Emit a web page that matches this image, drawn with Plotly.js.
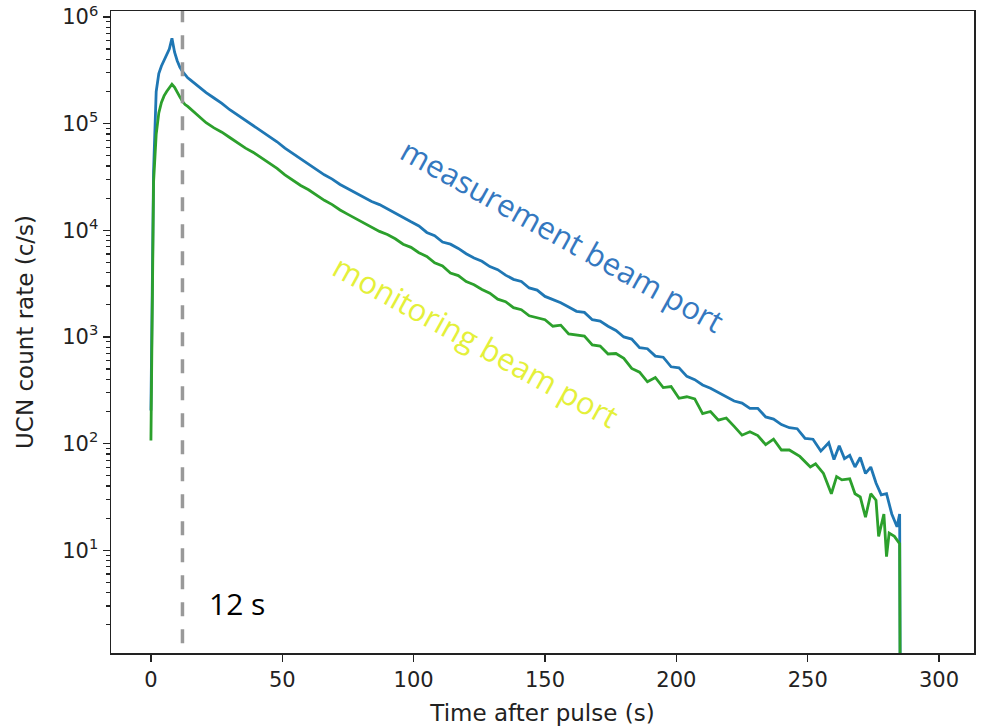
<!DOCTYPE html>
<html><head><meta charset="utf-8">
<script src="https://cdn.plot.ly/plotly-3.0.1.min.js"></script>
<style>html,body{margin:0;padding:0;background:#fff;} #chart{width:982px;height:726px;}</style>
</head><body><div id="chart"></div>
<script>
// ---- data (time in s, rate in counts/s) ----
const timeMeasurement = [0,1,2,3,4,5,6,7,8,9,10,11,12,13,14,15,
  18,21,24,27,30,33,36,39,42,45,48,51,54,57,60,63,66,69,72,75,78,81,84,87,90,93,96,99,
  102,105,108,111,114,117,120,123,126,129,132,135,138,141,144,147,150,153,156,159,162,165,168,171,174,177,
  180,183,186,189,192,195,198,201,204,207,210,213,216,219,222,225,228,231,234,237,240,243,246,249,252,
  255,258,260,262,264,266,268,270,272,274,276,278,280,282,284,285,286];
const rateMeasurement = [204,35500,200000,295000,347000,389000,437000,501000,631000,468000,389000,339000,309000,288000,269000,257000,
  224000,195000,174000,155000,135000,120000,107000,95500,85100,75900,67600,58900,52500,46800,41700,37200,33100,30200,26900,24500,22400,20400,18600,17400,15800,14500,13200,12000,
  11000,9550,8910,7760,7410,6760,6030,5500,5130,4570,4270,3800,3470,3310,2880,2750,2400,2240,2090,1910,1740,1700,1450,1410,1260,1150,
  1000,955,794,776,661,646,525,513,427,398,355,331,302,275,251,240,214,214,178,170,151,141,138,112,110,
  85.1,102,70.8,95.5,72.4,77.6,60.3,74.1,52.5,60.3,42.7,33.1,33.9,21.9,16.6,21.9,0.000001];

const timeMonitoring = [0,1,2,3,4,5,6,7,8,9,10,11,12,13,14,15,
  18,21,24,27,30,33,36,39,42,45,48,51,54,57,60,63,66,69,72,75,78,81,84,87,90,93,96,99,
  102,105,108,111,114,117,120,123,126,129,132,135,138,141,144,147,150,153,156,159,162,165,168,171,174,177,
  180,183,186,189,192,195,198,201,204,207,210,213,216,219,222,225,228,231,234,237,240,243,
  247,251,253,256,259,261,263,266,268,270,272,274,276,277,279,280,281,283,285,286];
const rateMonitoring = [107,28200,79400,126000,158000,182000,200000,219000,234000,219000,195000,178000,162000,151000,145000,138000,
  117000,102000,91200,83200,74100,66100,58900,53700,47900,42700,38000,33100,29500,26300,24000,21400,19100,17400,15500,14100,12900,11700,10700,9770,9120,8320,7410,6920,
  6170,5690,4950,4620,3980,3760,3310,3090,2790,2570,2260,2140,1880,1800,1580,1510,1450,1260,1290,1070,1050,1020,841,822,692,700,
  631,507,468,380,417,335,343,266,275,263,191,200,166,174,145,120,129,119,97.7,110,87.1,87.1,
  75.9,60.3,64.6,52.5,33.9,49.0,45.7,46.8,33.9,31.6,20.4,33.9,29.5,13.5,21.9,8.71,14.5,13.5,11.5,0.000001];

const xTickValues = [0,50,100,150,200,250,300];
const xTickLabels = ['0','50','100','150','200','250','300'];
const yTickValues = [10,100,1000,10000,100000,1000000];
const yTickLabels = ['10<sup>1</sup>','10<sup>2</sup>','10<sup>3</sup>','10<sup>4</sup>','10<sup>5</sup>','10<sup>6</sup>'];
const yMinorTickValues = [2,3,4,5,6,7,8,9,20,30,40,50,60,70,80,90,200,300,400,500,600,700,800,900,
  2000,3000,4000,5000,6000,7000,8000,9000,20000,30000,40000,50000,60000,70000,80000,90000,
  200000,300000,400000,500000,600000,700000,800000,900000];
const pulseMarkerTime = 12;
const seriesNames = ['measurement beam port','monitoring beam port'];

const traces = [
  {x: timeMeasurement, y: rateMeasurement, type:'scatter', mode:'lines', name: seriesNames[0],
   line:{color:'#1f77b4', width:2.8}},
  {x: timeMonitoring, y: rateMonitoring, type:'scatter', mode:'lines', name: seriesNames[1],
   line:{color:'#2ca02c', width:2.8}}
];

const axisColor = '#222';
const layout = {
  width: 982, height: 726,
  margin: {l:111, r:8, t:11, b:73, pad:0},
  paper_bgcolor:'#fff', plot_bgcolor:'#fff',
  showlegend:false,
  font:{family:'DejaVu Sans, sans-serif', color:axisColor},
  xaxis:{
    range:[-15.2,313.3], tickmode:'array', tickvals:xTickValues, ticktext:xTickLabels,
    ticks:'outside', ticklen:7, tickwidth:1.5, tickcolor:axisColor,
    showline:true, mirror:true, linecolor:axisColor, linewidth:1.5,
    showgrid:false, zeroline:false, automargin:false,
    tickfont:{size:21, color:axisColor},
    title:{text:'Time after pulse (s)', font:{size:23, color:axisColor}, standoff:14}
  },
  yaxis:{
    type:'log', range:[0.037,6.056], tickmode:'array', tickvals:yTickValues, ticktext:yTickLabels,
    ticks:'outside', ticklen:7, tickwidth:1.5, tickcolor:axisColor,
    minor:{tickmode:'array', tickvals:yMinorTickValues, ticks:'outside', ticklen:4, tickwidth:1.2, tickcolor:axisColor, showgrid:false},
    showline:true, mirror:true, linecolor:axisColor, linewidth:1.5,
    showgrid:false, zeroline:false, automargin:false,
    tickfont:{size:21, color:axisColor},
    title:{text:'UCN count rate (c/s)', font:{size:23, color:axisColor}, standoff:22}
  },
  shapes:[
    {type:'line', xref:'x', yref:'paper', x0:pulseMarkerTime, x1:pulseMarkerTime, y0:0.015, y1:1,
     line:{color:'#999999', width:3.5, dash:'14px,13px'}}
  ],
  annotations:[
    {text:seriesNames[0], xref:'paper', yref:'paper', x:0.5226, y:0.651, showarrow:false,
     textangle:29, xanchor:'center', yanchor:'middle',
     font:{family:'Open Sans, sans-serif', size:31, color:'#3478c0'}},
    {text:seriesNames[1], xref:'paper', yref:'paper', x:0.4229, y:0.4857, showarrow:false,
     textangle:29, xanchor:'center', yanchor:'middle',
     font:{family:'Open Sans, sans-serif', size:31, color:'#e4f03a'}},
    {text:pulseMarkerTime + ' s', xref:'paper', yref:'paper', x:0.146, y:0.0775, showarrow:false,
     xanchor:'center', yanchor:'middle',
     font:{family:'Open Sans, sans-serif', size:30, color:'#000'}}
  ]
};

Plotly.newPlot('chart', traces, layout, {displayModeBar:false, staticPlot:true});
</script></body></html>
